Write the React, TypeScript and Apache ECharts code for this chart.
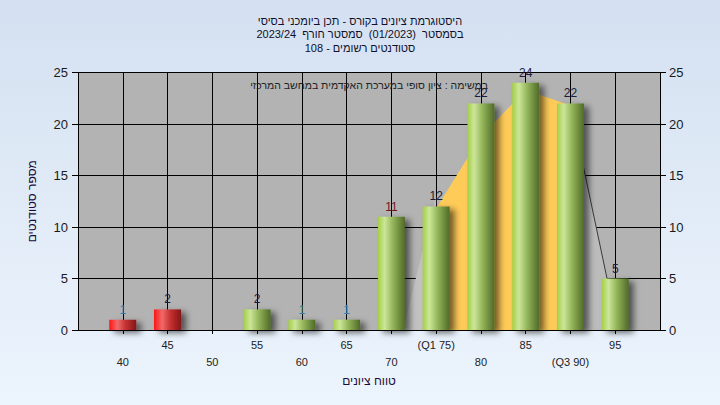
import React, { useEffect, useRef } from 'react';
import * as echarts from 'echarts';

// ---------- data ----------
const titleLines = [
  'היסטוגרמת ציונים בקורס - תכן ביומכני בסיסי',
  'בסמסטר  (01/2023)  סמסטר חורף  2023/24',
  'סטודנטים רשומים - 108',
];
const noteText = 'במשימה : ציון סופי במערכת האקדמית במחשב המרכזי';
const xAxisName = 'טווח ציונים';
const yAxisName = 'מספר סטודנטים';

const gradeBins = [40, 45, 50, 55, 60, 65, 70, 75, 80, 85, 90, 95];
const studentCounts = [1, 2, 0, 2, 1, 1, 11, 12, 22, 24, 22, 5];

const tickValues = [40, 45, 50, 55, 60, 65, 70, 75, 80, 85, 90, 95];
const tickLabels = ['40', '45', '50', '55', '60', '65', '70', '(Q1 75)', '80', '85', '(Q3 90)', '95'];

// distribution outline
const curveLeftX = [71.3, 75];
const curveLeftY = [0, 13];
const curveMidX = [75, 80, 85, 90];
const curveMidY = [11.8, 18.8, 23.3, 21.8];
const curveRightX = [90, 95.3];
const curveRightY = [21.8, 0];

const passGrade = 55;

// ---------- styles ----------
const FONT = 'Arial, "Liberation Sans", "DejaVu Sans", sans-serif';
const labelColorFor = (grade: number, v: number) => {
  if (v === 1) return '#2f7fb0';
  if (v === 11) return '#6a1c1c';
  return '#1c1c3c';
};

const greenGrad = new echarts.graphic.LinearGradient(0, 0, 1, 0, [
  { offset: 0, color: '#a3cf45' },
  { offset: 0.25, color: '#cce699' },
  { offset: 0.55, color: '#94b65a' },
  { offset: 1, color: '#506a28' },
]);
const redGrad = new echarts.graphic.LinearGradient(0, 0, 1, 0, [
  { offset: 0, color: '#ff1414' },
  { offset: 0.3, color: '#f06a6a' },
  { offset: 0.6, color: '#c63232' },
  { offset: 1, color: '#841616' },
]);

const zip = (xs: number[], ys: number[]) => xs.map((x, i) => [x, ys[i]]);

export default function App() {
  const ref = useRef<HTMLDivElement>(null);
  useEffect(() => {
    if (!ref.current) return;
    const chart = echarts.init(ref.current, undefined, { renderer: 'svg' });
    const barData = gradeBins.map((g, i) => ({
      value: [g, studentCounts[i]],
      itemStyle: { color: g < passGrade ? redGrad : greenGrad },
      label: { color: labelColorFor(g, studentCounts[i]) },
    }));
    chart.setOption({
      animation: false,
      backgroundColor: 'transparent',
      textStyle: { fontFamily: FONT },
      title: {
        text: titleLines.join('\n'),
        left: 'center',
        top: 9,
        textStyle: { fontSize: 11, lineHeight: 13.5, fontWeight: 'normal', color: '#10102a', fontFamily: FONT },
      },
      grid: {
        left: 78,
        right: 60,
        top: 72.5,
        bottom: 75,
        show: true,
        backgroundColor: '#b3b3b3',
        borderWidth: 0,
      },
      xAxis: {
        type: 'value',
        min: 35,
        max: 100,
        interval: 5,
        name: xAxisName,
        nameLocation: 'middle',
        nameGap: 45,
        nameTextStyle: { fontSize: 12, color: '#1a0c3a', fontFamily: FONT },
        axisLine: { show: true, onZero: false, lineStyle: { color: '#000', width: 1 } },
        axisTick: { show: true, length: 4, lineStyle: { color: '#000' } },
        splitLine: { show: true, lineStyle: { color: '#000', width: 1 } },
        axisLabel: {
          margin: 6,
          fontSize: 11,
          lineHeight: 17,
          color: '#222',
          fontFamily: FONT,
          showMinLabel: false,
          showMaxLabel: false,
          formatter: (v: number) => {
            const i = tickValues.indexOf(v);
            if (i < 0) return '';
            return i % 2 === 0 ? '\n' + tickLabels[i] : tickLabels[i];
          },
        },
      },
      yAxis: [
        {
          type: 'value',
          min: 0,
          max: 25,
          interval: 5,
          position: 'left',
          name: yAxisName,
          nameLocation: 'middle',
          nameGap: 40,
          nameRotate: 90,
          nameTextStyle: { fontSize: 12, color: '#1a0c3a', fontFamily: FONT },
          axisLine: { show: true, lineStyle: { color: '#000' } },
          axisTick: { show: true, length: 6, lineStyle: { color: '#000' } },
          splitLine: { show: true, lineStyle: { color: '#000', width: 1 } },
          axisLabel: { margin: 10, fontSize: 13, color: '#1a1a1a', fontFamily: FONT },
        },
        {
          type: 'value',
          min: 0,
          max: 25,
          interval: 5,
          position: 'right',
          axisLine: { show: true, lineStyle: { color: '#000' } },
          axisTick: { show: true, length: 6, lineStyle: { color: '#000' } },
          splitLine: { show: false },
          axisLabel: { margin: 9, fontSize: 13, color: '#1a1a1a', fontFamily: FONT },
        },
      ],
      graphic: [
        {
          type: 'text',
          x: 488,
          y: 85,
          z: 10,
          style: {
            text: noteText,
            align: 'right',
            verticalAlign: 'middle',
            textAlign: 'right',
            textVerticalAlign: 'middle',
            fontSize: 10.5,
            fontFamily: FONT,
            fill: '#222',
          },
        },
      ],
      series: [
        {
          type: 'line',
          data: zip(curveLeftX, curveLeftY),
          symbol: 'none',
          z: 1,
          lineStyle: { width: 0 },
          areaStyle: { color: '#c2c2c2', opacity: 1 },
          silent: true,
        },
        {
          type: 'line',
          data: zip(curveMidX, curveMidY),
          symbol: 'none',
          z: 1,
          lineStyle: { width: 0 },
          areaStyle: { color: '#ffcb58', opacity: 1 },
          silent: true,
        },
        {
          type: 'line',
          data: zip(curveRightX, curveRightY),
          symbol: 'none',
          z: 1,
          lineStyle: { width: 1, color: '#3a3a3a' },
          areaStyle: { color: '#bcbcbc', opacity: 1 },
          silent: true,
        },
        {
          type: 'bar',
          data: barData,
          barWidth: 27,
          z: 3,
          itemStyle: {
            shadowColor: 'rgba(0,0,0,0.55)',
            shadowBlur: 6,
            shadowOffsetX: 5,
            shadowOffsetY: 3,
          },
          label: {
            show: true,
            position: 'top',
            distance: 4,
            fontSize: 12,
            fontFamily: FONT,
            formatter: (p: any) => (p.value[1] === 0 ? '' : String(p.value[1])),
          },
        },
      ],
    });
    return () => chart.dispose();
  }, []);
  return (
    <div
      ref={ref}
      style={{
        position: 'fixed',
        left: 0,
        top: 0,
        width: 720,
        height: 405,
        background: 'linear-gradient(180deg, #d4e0f1 0%, #e1ebf7 50%, #ecf4fd 100%)',
      }}
    />
  );
}
